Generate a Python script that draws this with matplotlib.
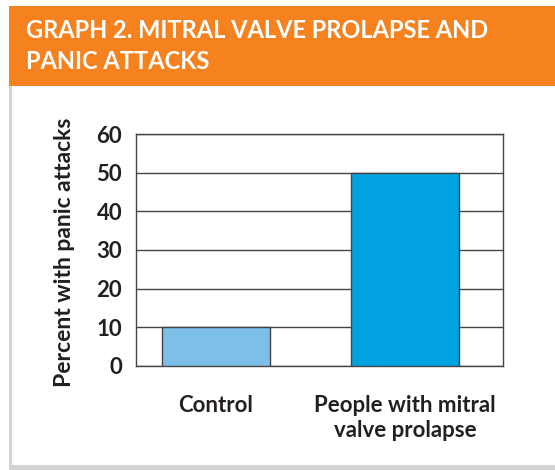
import matplotlib
matplotlib.use("Agg")
import matplotlib.pyplot as plt
from matplotlib.patches import Rectangle

categories = ["Control", "People with mitral\nvalve prolapse"]
values = [10, 50]
bar_colors = ["#7cc0ea", "#00a3e0"]
yticks = [0, 10, 20, 30, 40, 50, 60]
title = "GRAPH 2. MITRAL VALVE PROLAPSE AND\nPANIC ATTACKS"
ylabel = "Percent with panic attacks"

W, H = 555, 470
fig = plt.figure(figsize=(W / 100, H / 100), dpi=100)
fig.patch.set_facecolor("white")

# frame: grey left and bottom border
fig.add_artist(Rectangle((9 / W, 0), 2.5 / W, 1 - 86 / H, transform=fig.transFigure,
                         facecolor="#d4d4d4", edgecolor="none", zorder=0))
fig.add_artist(Rectangle((9 / W, 0), 1 - 9 / W, 5 / H, transform=fig.transFigure,
                         facecolor="#d4d4d4", edgecolor="none", zorder=0))
# orange header
fig.add_artist(Rectangle((9 / W, 1 - 86 / H), 1 - 9 / W, 80 / H, transform=fig.transFigure,
                         facecolor="#f5821f", edgecolor="none", zorder=1))
fig.text(26 / W, 1 - 46 / H, title, color="white", fontsize=17, fontweight="bold",
         family="Lato", ha="left", va="center", linespacing=1.4, zorder=2)

ax = fig.add_axes([136 / W, 1 - 366 / H, (503 - 136) / W, (366 - 134) / H])
x = list(range(len(categories)))
ax.bar(x, values, width=0.571, color=bar_colors, edgecolor="#444444", linewidth=1.0, zorder=3)
ax.set_ylim(0, 60)
ax.set_xlim(-0.423, 1.519)
ax.set_yticks(yticks)
ax.set_yticklabels([str(t) for t in yticks], fontsize=16, fontweight="bold",
                   family="Lato", color="#231f20")
ax.set_xticks(x)
ax.set_xticklabels(categories, fontsize=16, fontweight="bold", family="Lato",
                   color="#231f20", linespacing=1.2, va="top")
ax.tick_params(axis="y", length=0, pad=10)
ax.tick_params(axis="x", length=0, pad=21)
ax.grid(axis="y", color="#444444", linewidth=1.0, zorder=1)
ax.set_axisbelow(True)
for s in ax.spines.values():
    s.set_color("#444444")
    s.set_linewidth(1.0)
ax.set_ylabel(ylabel, fontsize=16.5, fontweight="bold", family="Lato", color="#231f20",
              labelpad=0, va="center")
ax.yaxis.set_label_coords(-0.196, 0.49)

fig.savefig("out.png", dpi=100)
